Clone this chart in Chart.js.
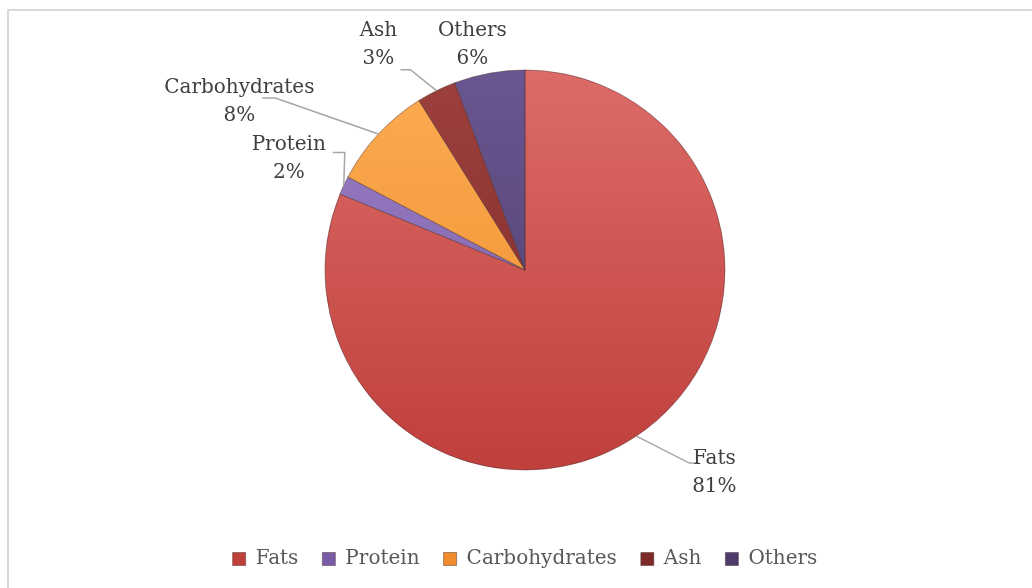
<!DOCTYPE html>
<html>
<head>
<meta charset="utf-8">
<script src="https://cdn.jsdelivr.net/npm/chart.js@4.4.0/dist/chart.umd.min.js"></script>
<style>
  html, body { margin: 0; background: #fff; overflow: hidden; }
  #pie { display: block; }
</style>
</head>
<body>
<canvas id="pie" width="1032" height="588"></canvas>
<script>
var categories = ["Fats", "Protein", "Carbohydrates", "Ash", "Others"];
var shares = [81.2, 1.5, 8.4, 3.2, 5.7];

// slice colours: light (top) and dark (bottom) end of the gradient
var lightColors = ["#dc6b67", "#9a7fc5", "#fbab52", "#9c403d", "#6a5690"];
var darkColors = ["#bf3f3b", "#7a5ca6", "#f08c2c", "#7d2a28", "#4e3c6c"];

// label placement relative to the slice edge point, and leader line elbows
var labelPos = [
  { dx: 78, dy: 37, elbow: [53, 27], run: 10 },
  { dx: -55, dy: -27, elbow: [1, -33], run: -12 },
  { dx: -139, dy: -32, elbow: [-103, -36], run: -13 },
  { dx: -58, dy: -46, elbow: [-26, -21], run: -10 },
  { dx: -17, dy: -28, elbow: null, run: 0 }
];

var FONT = "'DejaVu Serif', serif";
var total = shares.reduce(function (a, b) { return a + b; }, 0);

function percent(v) {
  return Math.round(Number((v * 100 / total).toFixed(6))) + "%";
}

function sliceFill(context) {
  var i = context.dataIndex;
  var chart = context.chart;
  var area = chart.chartArea;
  if (!area || i === undefined) return darkColors[i || 0];
  var cy = (area.top + area.bottom) / 2;
  var g = chart.ctx.createLinearGradient(0, cy - 200, 0, cy + 200);
  g.addColorStop(0, lightColors[i]);
  g.addColorStop(1, darkColors[i]);
  return g;
}

// light grey frame, only the left and top edges fall inside the picture
var frame = {
  id: "frame",
  beforeDraw: function (chart) {
    var ctx = chart.ctx;
    ctx.save();
    ctx.fillStyle = "#ffffff";
    ctx.fillRect(0, 0, chart.width, chart.height);
    ctx.strokeStyle = "#d9d9d9";
    ctx.lineWidth = 2;
    ctx.beginPath();
    ctx.moveTo(8, chart.height);
    ctx.lineTo(8, 10);
    ctx.lineTo(chart.width, 10);
    ctx.stroke();
    ctx.restore();
  }
};

var pieLabels = {
  id: "pieLabels",
  afterDatasetsDraw: function (chart) {
    var ctx = chart.ctx;
    var meta = chart.getDatasetMeta(0);
    ctx.save();
    ctx.font = "20px " + FONT;
    ctx.fillStyle = "#404040";
    ctx.textAlign = "center";
    ctx.textBaseline = "middle";
    meta.data.forEach(function (arc, i) {
      var p = arc.getProps(["x", "y", "startAngle", "endAngle", "outerRadius"], true);
      var mid = (p.startAngle + p.endAngle) / 2;
      var ex = p.x + Math.cos(mid) * p.outerRadius;
      var ey = p.y + Math.sin(mid) * p.outerRadius;
      var lp = labelPos[i];
      if (lp.elbow) {
        ctx.strokeStyle = "#a6a6a6";
        ctx.lineWidth = 1.5;
        ctx.beginPath();
        ctx.moveTo(ex, ey);
        ctx.lineTo(ex + lp.elbow[0], ey + lp.elbow[1]);
        ctx.lineTo(ex + lp.elbow[0] + lp.run, ey + lp.elbow[1]);
        ctx.stroke();
      }
      var lx = ex + lp.dx;
      var ly = ey + lp.dy;
      ctx.fillText(categories[i], lx, ly - 14);
      ctx.fillText(percent(shares[i]), lx, ly + 14);
    });
    ctx.restore();
  }
};

new Chart(document.getElementById("pie").getContext("2d"), {
  type: "pie",
  data: {
    labels: categories,
    datasets: [{
      data: shares,
      backgroundColor: sliceFill,
      borderColor: "rgba(70, 40, 40, 0.45)",
      borderWidth: 1
    }]
  },
  options: {
    responsive: false,
    animation: false,
    radius: 200,
    layout: { padding: { top: 15, bottom: 9, left: 18, right: 0 } },
    plugins: {
      tooltip: { enabled: false },
      legend: {
        position: "bottom",
        labels: {
          boxWidth: 13,
          boxHeight: 13,
          padding: 24,
          color: "#595959",
          font: { family: FONT, size: 20 }
        }
      }
    }
  },
  plugins: [frame, pieLabels]
});
</script>
</body>
</html>
